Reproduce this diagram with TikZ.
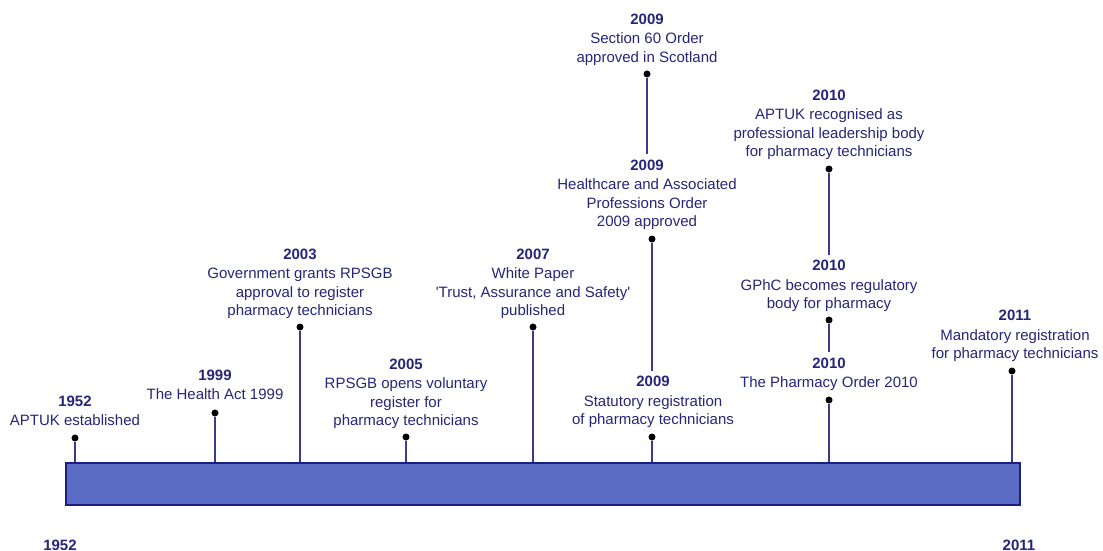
\documentclass[tikz,border=0pt]{standalone}
\usepackage{fontspec}
\setmainfont{Liberation Sans}
\usetikzlibrary{positioning}
\definecolor{navy}{HTML}{25257A}
\definecolor{stemblue}{HTML}{3A3A8E}
\definecolor{barblue}{HTML}{5A6CC4}
\definecolor{bardraw}{HTML}{1C1C86}

\begin{document}
\begin{tikzpicture}[x=1pt, y=-1pt,
    event/.style={align=center, text=navy, font=\fontsize{15}{18.5}\selectfont, anchor=base, inner sep=5pt},
    pin/.style={circle, fill=black, inner sep=0pt, minimum size=7pt},
    stem/.style={draw=stemblue, line width=1.1pt},
    timebar/.style={draw=bardraw, fill=barblue, line width=1.4pt, minimum width=954pt, minimum height=42pt, inner sep=0pt}]
  \useasboundingbox (0,0) rectangle (1103,551);
  % the bar
  \node[timebar] (bar) at (543,484) {};
  \node[event] (start) at (60,550) {\textbf{1952}};
  \node[event] (end) at (1019,550) {\textbf{2011}};
  % events (placed at the baseline of their last line)
  \node[event] (aptuk) at (75,425.5) {\textbf{1952}\\[1pt]APTUK established};
  \node[event] (healthact) at (215,399.5) {\textbf{1999}\\[1pt]The Health Act 1999};
  \node[event] (govgrant) at (300,315.5) {\textbf{2003}\\[1pt]Government grants RPSGB\\approval to register\\pharmacy technicians};
  \node[event] (voluntary) at (406,425.5) {\textbf{2005}\\[1pt]RPSGB opens voluntary\\register for\\pharmacy technicians};
  \node[event] (whitepaper) at (533,315.5) {\textbf{2007}\\[1pt]White Paper\\\textquotesingle Trust, Assurance and Safety\textquotesingle\\published};
  \node[event] (section) at (647,62.5) {\textbf{2009}\\[1pt]Section 60 Order\\approved in Scotland};
  \node[event] (hapo) at (647,226.5) {\textbf{2009}\\[1pt]Healthcare and Associated\\Professions Order\\2009 approved};
  \node[event] (statutory) at (653,424.5) {\textbf{2009}\\[1pt]Statutory registration\\of pharmacy technicians};
  \node[event] (leadership) at (829,156.5) {\textbf{2010}\\[1pt]APTUK recognised as\\professional leadership body\\for pharmacy technicians};
  \node[event] (gphc) at (829,308.5) {\textbf{2010}\\[1pt]GPhC becomes regulatory\\body for pharmacy};
  \node[event] (order) at (829,387.5) {\textbf{2010}\\[1pt]The Pharmacy Order 2010};
  \node[event] (mandatory) at (1015,358.5) {\textbf{2011}\\[1pt]Mandatory registration\\for pharmacy technicians};
  % pins
  \node[pin] (p1952) at (75,438) {};
  \node[pin] (p1999) at (215,413) {};
  \node[pin] (p2003) at (300,327) {};
  \node[pin] (p2005) at (406,437) {};
  \node[pin] (p2007) at (533,327) {};
  \node[pin] (p2009a) at (647,74) {};
  \node[pin] (p2009b) at (652,239) {};
  \node[pin] (p2009c) at (652,437) {};
  \node[pin] (p2010a) at (829,169) {};
  \node[pin] (p2010b) at (829,320) {};
  \node[pin] (p2010c) at (829,400) {};
  \node[pin] (p2011) at (1012,371) {};
  % stems
  \foreach \p in {p1952,p1999,p2003,p2005,p2007,p2009c,p2010c,p2011}
    \draw[stem] (\p) -- (\p |- bar.north);
  \draw[stem] (p2009a) -- (p2009a |- hapo.north);
  \draw[stem] (p2009b) -- (p2009b |- statutory.north);
  \draw[stem] (p2010a) -- (p2010a |- gphc.north);
  \draw[stem] (p2010b) -- (p2010b |- order.north);
\end{tikzpicture}
\end{document}
